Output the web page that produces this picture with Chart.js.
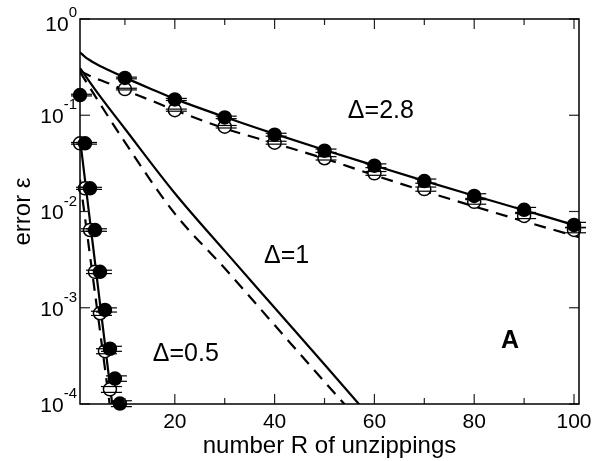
<!DOCTYPE html>
<html>
<head>
<meta charset="UTF-8">
<title>Error vs number of unzippings</title>
<script src="https://cdn.jsdelivr.net/npm/chart.js"></script>
<style>
  html, body { margin: 0; padding: 0; background: #fff; }
  #wrap { width: 594px; height: 461px; }
</style>
</head>
<body>
<div id="wrap"><canvas id="chart" width="594" height="461"></canvas></div>
<script>
// fitted curves (solid / dashed), one x list per delta
const fitX28 = [1, 2, 3, 4, 5, 7, 10, 15, 20, 30, 40, 50, 60, 70, 80, 90, 100, 101];
const fitSolid28 = [0.45, 0.405, 0.373, 0.347, 0.325, 0.29, 0.246, 0.19, 0.148, 0.096, 0.064, 0.0435, 0.030, 0.0208, 0.0146, 0.0103, 0.0072, 0.0069];
const fitDashed28 = [0.29, 0.272, 0.256, 0.243, 0.232, 0.212, 0.182, 0.144, 0.113, 0.073, 0.051, 0.0355, 0.0238, 0.0163, 0.0113, 0.0079, 0.0056, 0.0054];

const fitX1 = [1, 5, 10, 20, 30, 40, 50, 60];
const fitSolid1 = [0.309, 0.158, 0.0724, 0.0155, 0.0039, 0.001, 0.000257, 0.000065];
const fitDashed1 = [0.282, 0.132, 0.0525, 0.0095, 0.00257, 0.00066, 0.00017, 0.000045];

const fitX05 = [1, 3, 5, 7, 8];
const fitSolid05 = [0.057, 0.008, 0.00112, 0.000156, 0.000059];
const fitDashed05 = [0.0214, 0.0035, 0.00058, 0.000095, 0.000039];

// simulation points with relative error bars
const ptsX28 = [10, 20, 30, 40, 50, 60, 70, 80, 90, 100];
const filled28 = [0.244, 0.146, 0.095, 0.0628, 0.0428, 0.0299, 0.0207, 0.0145, 0.0104, 0.00724];
const open28 = [0.187, 0.113, 0.076, 0.0519, 0.0357, 0.0249, 0.0171, 0.0126, 0.00898, 0.00643];
const errFilled28 = [0.02, 0.025, 0.03, 0.035, 0.04, 0.045, 0.05, 0.055, 0.06, 0.065];
const errOpen28 = [0.02, 0.025, 0.03, 0.035, 0.04, 0.045, 0.05, 0.055, 0.06, 0.065];

const ptsXFilled05 = [1, 2, 3, 4, 5, 6, 7, 8, 9];
const filled05 = [0.162, 0.0511, 0.0174, 0.00642, 0.00236, 0.00095, 0.000375, 0.000184, 0.000101];
const errFilled05 = [0.02, 0.02, 0.025, 0.03, 0.04, 0.05, 0.06, 0.065, 0.07];
const ptsXOpen05 = [1, 2, 3, 4, 5, 6, 7];
const open05 = [0.0511, 0.0174, 0.00642, 0.00236, 0.000876, 0.000354, 0.000142];
const errOpen05 = [0.02, 0.025, 0.03, 0.04, 0.05, 0.06, 0.07];

// axes
const xMajor = [20, 40, 60, 80, 100];
const xMinor = [10, 30, 50, 70, 90];
const yExponents = [0, -1, -2, -3, -4];

// annotations, placed in data coordinates
const notes = [
  { text: '\u0394=2.8', x: 61.3, y: 0.111, bold: false },
  { text: '\u0394=1', x: 42.4, y: 0.00345, bold: false },
  { text: '\u0394=0.5', x: 22.2, y: 0.00033, bold: false },
  { text: 'A', x: 87.2, y: 0.00045, bold: true }
];

const FONT = '"Liberation Sans", Arial, Helvetica, sans-serif';

const zip = (xs, ys) => xs.map((x, i) => ({ x, y: ys[i] }));

function fitLine(xs, ys, dashed) {
  return {
    data: zip(xs, ys),
    showLine: true,
    borderColor: '#000',
    borderWidth: 2.2,
    borderDash: dashed ? [12, 8] : [],
    pointRadius: 0,
    cubicInterpolationMode: 'monotone',
    order: 2
  };
}

function markers(xs, ys, errs, filled) {
  return {
    data: zip(xs, ys),
    errors: errs,
    showLine: false,
    pointRadius: 6.5,
    pointBackgroundColor: filled ? '#000' : '#fff',
    pointBorderColor: '#000',
    pointBorderWidth: 1.5,
    clip: false,
    order: filled ? 0 : 1
  };
}

const datasets = [
  markers(ptsX28, filled28, errFilled28, true),
  markers(ptsXFilled05, filled05, errFilled05, true),
  markers(ptsX28, open28, errOpen28, false),
  markers(ptsXOpen05, open05, errOpen05, false),
  fitLine(fitX28, fitSolid28, false),
  fitLine(fitX28, fitDashed28, true),
  fitLine(fitX1, fitSolid1, false),
  fitLine(fitX1, fitDashed1, true),
  fitLine(fitX05, fitSolid05, false),
  fitLine(fitX05, fitDashed05, true)
];

const framePlugin = {
  id: 'frame',
  afterDatasetsDraw(chart) {
    const { ctx, scales: { y } } = chart;
    ctx.save();
    ctx.strokeStyle = '#000';
    ctx.lineWidth = 1.2;
    chart.data.datasets.forEach((ds, i) => {
      if (!ds.errors) return;
      const meta = chart.getDatasetMeta(i);
      meta.data.forEach((pt, j) => {
        const v = ds.data[j].y;
        const e = ds.errors[j];
        [1 + e, 1 - e].forEach(k => {
          const py = y.getPixelForValue(v * k);
          ctx.beginPath();
          ctx.moveTo(pt.x - 9, py);
          ctx.lineTo(pt.x + 12, py);
          ctx.stroke();
        });
      });
    });
    ctx.restore();
  },
  afterDraw(chart) {
    const { ctx, chartArea: a, scales: { x, y } } = chart;
    ctx.save();

    // ticks, pointing inward on all four sides
    ctx.strokeStyle = '#222';
    ctx.lineWidth = 1.2;
    const tick = (x1, y1, x2, y2) => {
      ctx.beginPath();
      ctx.moveTo(x1, y1);
      ctx.lineTo(x2, y2);
      ctx.stroke();
    };
    xMajor.concat(xMinor).forEach(v => {
      const len = xMajor.includes(v) ? 10 : 6;
      const px = x.getPixelForValue(v);
      tick(px, a.bottom, px, a.bottom - len);
      tick(px, a.top, px, a.top + len);
    });
    yExponents.forEach(k => {
      const py = y.getPixelForValue(Math.pow(10, k));
      tick(a.left, py, a.left + 10, py);
      tick(a.right, py, a.right - 10, py);
    });

    // frame
    ctx.strokeStyle = '#000';
    ctx.lineWidth = 1.5;
    ctx.strokeRect(a.left, a.top, a.right - a.left, a.bottom - a.top);

    ctx.fillStyle = '#000';

    // x tick labels
    ctx.font = '21px ' + FONT;
    ctx.textAlign = 'center';
    ctx.textBaseline = 'middle';
    xMajor.forEach(v => {
      ctx.fillText(String(v), x.getPixelForValue(v), a.bottom + 18);
    });

    // y tick labels: 10 with a raised exponent
    yExponents.forEach((k, i) => {
      const py = y.getPixelForValue(Math.pow(10, k)) + (i === 0 ? 6 : 2);
      const exp = k === 0 ? '0' : '-' + Math.abs(k);
      const right = a.left - 3;
      ctx.textAlign = 'right';
      ctx.font = '15px ' + FONT;
      const ew = ctx.measureText(exp).width;
      ctx.fillText(exp, right, py - 12);
      ctx.font = '21px ' + FONT;
      ctx.fillText('10', right - ew, py);
    });

    // axis titles
    ctx.font = '24px ' + FONT;
    ctx.textAlign = 'center';
    ctx.fillText('number R of unzippings', (a.left + a.right) / 2, a.bottom + 42);
    ctx.save();
    ctx.translate(23, (a.top + a.bottom) / 2);
    ctx.rotate(-Math.PI / 2);
    ctx.fillText('error \u03b5', 0, 0);
    ctx.restore();

    // annotations
    notes.forEach(n => {
      ctx.font = (n.bold ? 'bold ' : '') + '25px ' + FONT;
      ctx.fillText(n.text, x.getPixelForValue(n.x), y.getPixelForValue(n.y));
    });

    ctx.restore();
  }
};

new Chart(document.getElementById('chart'), {
  type: 'scatter',
  data: { datasets },
  options: {
    responsive: false,
    animation: false,
    layout: { padding: { left: 80, right: 15, top: 19, bottom: 57 } },
    plugins: { legend: { display: false }, tooltip: { enabled: false } },
    scales: {
      x: { type: 'linear', min: 1, max: 101, display: false },
      y: { type: 'logarithmic', min: 1e-4, max: 1, display: false }
    }
  },
  plugins: [framePlugin]
});
</script>
</body>
</html>
